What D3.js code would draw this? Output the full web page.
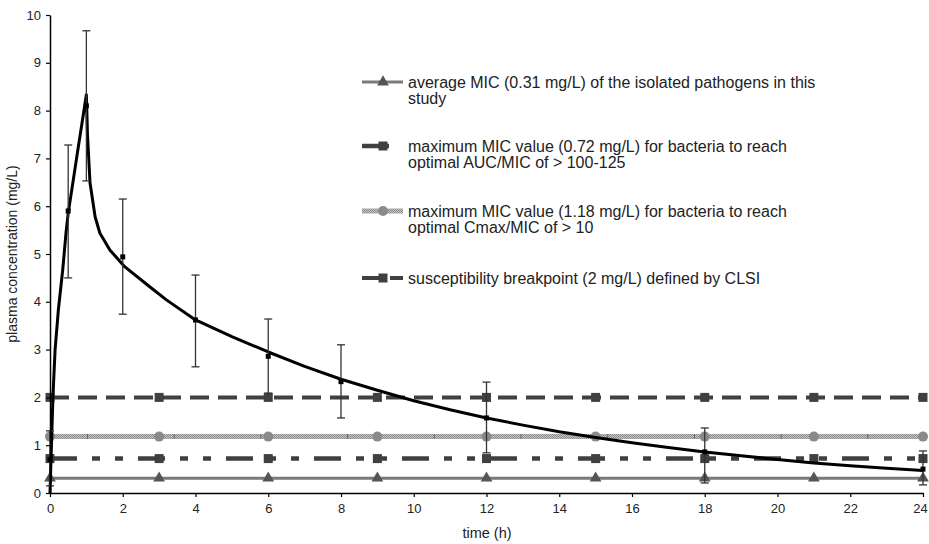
<!DOCTYPE html>
<html>
<head>
<meta charset="utf-8">
<script src="https://cdn.jsdelivr.net/npm/d3@7/dist/d3.min.js"></script>
<style>
  body { margin: 0; background: #fff; }
  svg { display: block; font-family: "Liberation Sans", Arial, sans-serif; }
</style>
</head>
<body>
<svg id="chart" width="929" height="544"></svg>
<script>
// ---- data ----
const timeTicks = [0, 2, 4, 6, 8, 10, 12, 14, 16, 18, 20, 22, 24];
const concTicks = [0, 1, 2, 3, 4, 5, 6, 7, 8, 9, 10];

// observed mean concentrations with error bars
const obsTime  = [0, 0.5, 1, 2, 4, 6, 8, 12, 18, 24];
const obsMean  = [0.7, 5.9, 8.1, 4.94, 3.62, 2.86, 2.33, 1.57, 0.86, 0.5];
const obsUpper = [1.3, 7.28, 9.67, 6.15, 4.56, 3.64, 3.1, 2.32, 1.36, 0.88];
const obsLower = [0.15, 4.5, 6.53, 3.74, 2.64, 2.09, 1.57, 0.84, 0.21, 0.17];

// fitted concentration-time curve
const curveTime = [0, 0.08, 0.14, 0.23, 0.35, 0.44, 0.5, 0.75, 1.0, 1.03, 1.1, 1.24, 1.37, 1.65, 2.06, 2.75, 3.2, 4, 5, 6, 7, 8, 9, 10, 11, 12, 13, 14, 15, 16, 17, 18, 19, 20, 21, 22, 23, 24];
const curveConc = [0, 2.0, 3.0, 3.83, 4.67, 5.44, 5.85, 7.1, 8.33, 7.5, 6.49, 5.78, 5.44, 5.08, 4.73, 4.31, 4.04, 3.62, 3.27, 2.95, 2.65, 2.38, 2.15, 1.93, 1.74, 1.57, 1.42, 1.28, 1.16, 1.05, 0.95, 0.86, 0.78, 0.70, 0.63, 0.57, 0.52, 0.47];

// threshold reference lines
const refMarkerTimes = [0, 3, 6, 9, 12, 15, 18, 21, 24];
const refNames = [
  ["average MIC (0.31 mg/L) of the isolated pathogens in this", "study"],
  ["maximum MIC value (0.72 mg/L) for bacteria to reach", "optimal AUC/MIC of > 100-125"],
  ["maximum MIC value (1.18 mg/L) for bacteria to reach", "optimal Cmax/MIC of > 10"],
  ["susceptibility breakpoint (2 mg/L) defined by CLSI"]
];
const refValues = [0.31, 0.72, 1.18, 2];

// ---- layout ----
const svg = d3.select("#chart");
const x = d3.scaleLinear().domain([0, 24]).range([50, 923]);
const y = d3.scaleLinear().domain([0, 10]).range([493, 15]);

// pattern for hatched grey line
const defs = svg.append("defs");
const pat = defs.append("pattern").attr("id", "hatch").attr("patternUnits", "userSpaceOnUse")
  .attr("width", 2).attr("height", 2);
pat.append("rect").attr("width", 2).attr("height", 2).attr("fill", "#c4c4c4");
pat.append("rect").attr("width", 1).attr("height", 1).attr("fill", "#8c8c8c");
pat.append("rect").attr("x", 1).attr("y", 1).attr("width", 1).attr("height", 1).attr("fill", "#8c8c8c");

const styles = [
  { stroke: "#7a7a7a", width: 3, dash: null, marker: "triangle", mfill: "#555" },
  { stroke: "#404040", width: 4.5, dash: "27,15,8,15,8,15", marker: "square", mfill: "#404040" },
  { stroke: "url(#hatch)", width: 5, dash: null, marker: "circle", mfill: "#8a8a8a" },
  { stroke: "#404040", width: 4, dash: "19,9", marker: "square", mfill: "#404040" }
];

function drawMarker(g, type, cx, cy, fill) {
  if (type === "triangle") {
    g.append("path").attr("d", d3.symbol(d3.symbolTriangle, 60)()).attr("transform", `translate(${cx},${cy})`).attr("fill", fill);
  } else if (type === "square") {
    g.append("rect").attr("x", cx - 4.5).attr("y", cy - 4.5).attr("width", 9).attr("height", 9).attr("fill", fill);
  } else {
    g.append("circle").attr("cx", cx).attr("cy", cy).attr("r", 5).attr("fill", fill);
  }
}

// reference lines
const refG = svg.append("g");
refValues.forEach((v, i) => {
  const s = styles[i];
  refG.append("line").attr("x1", x(0)).attr("x2", x(24)).attr("y1", y(v)).attr("y2", y(v))
    .attr("stroke", s.stroke).attr("stroke-width", s.width)
    .attr("stroke-dasharray", s.dash);
  if (i === 2) {
    refG.append("line").attr("x1", x(0)).attr("x2", x(24)).attr("y1", y(v)).attr("y2", y(v))
      .attr("stroke", "#666").attr("stroke-width", 5)
      .attr("stroke-dasharray", "1,85.7").attr("stroke-dashoffset", 49.7);
  }
  refMarkerTimes.forEach(t => drawMarker(refG, s.marker, x(t), y(v), s.mfill));
});

// fitted curve
svg.append("path")
  .attr("d", d3.line().x((d, i) => x(curveTime[i])).y(d => y(d))(curveConc))
  .attr("fill", "none").attr("stroke", "#000").attr("stroke-width", 3).attr("stroke-linejoin", "round");

// error bars & observed means
const eb = svg.append("g").attr("stroke", "#333").attr("stroke-width", 1.3);
obsTime.forEach((t, i) => {
  const cx = x(t);
  eb.append("line").attr("x1", cx).attr("x2", cx).attr("y1", y(obsUpper[i])).attr("y2", y(obsLower[i]));
  eb.append("line").attr("x1", cx - 4).attr("x2", cx + 4).attr("y1", y(obsUpper[i])).attr("y2", y(obsUpper[i]));
  eb.append("line").attr("x1", cx - 4).attr("x2", cx + 4).attr("y1", y(obsLower[i])).attr("y2", y(obsLower[i]));
});
svg.append("g").selectAll("rect").data(obsMean).join("rect")
  .attr("x", (d, i) => x(obsTime[i]) - 2.5).attr("y", d => y(d) - 2.5)
  .attr("width", 5).attr("height", 5).attr("fill", "#000");

// axes
const xAxis = svg.append("g").attr("transform", `translate(0,${y(0)})`)
  .call(d3.axisBottom(x).tickValues(timeTicks).tickSize(4).tickPadding(7).tickSizeOuter(0));
const yAxis = svg.append("g").attr("transform", `translate(${x(0)},0)`)
  .call(d3.axisLeft(y).tickValues(concTicks).tickSize(4).tickPadding(5).tickSizeOuter(0));
[xAxis, yAxis].forEach(a => {
  a.select(".domain").attr("stroke", "#000").attr("stroke-width", 1.5);
  a.selectAll(".tick line").attr("stroke", "#000").attr("stroke-width", 1.2);
  a.selectAll(".tick text").attr("font-size", 13).attr("fill", "#222").attr("font-family", "Liberation Sans, Arial, sans-serif");
});
// keep the last x tick label inside the page
xAxis.selectAll(".tick text").filter(d => d === 24).attr("dx", -3);

// axis titles
svg.append("text").attr("x", 487).attr("y", 538).attr("text-anchor", "middle")
  .attr("font-size", 14.5).attr("fill", "#222").text("time (h)");
svg.append("text").attr("transform", "translate(17,254) rotate(-90)").attr("text-anchor", "middle")
  .attr("font-size", 14).attr("fill", "#222").text("plasma concentration (mg/L)");

// legend
const legY = [82, 146, 211, 278];
const lg = svg.append("g");
refNames.forEach((lines, i) => {
  const s = styles[i];
  const ly = legY[i];
  lg.append("line").attr("x1", 362).attr("x2", 403).attr("y1", ly).attr("y2", ly)
    .attr("stroke", s.stroke).attr("stroke-width", s.width).attr("stroke-dasharray", s.dash);
  drawMarker(lg, s.marker, 383, ly, s.mfill);
  const t = lg.append("text").attr("x", 408).attr("y", ly + 6).attr("font-size", 16).attr("fill", "#222");
  lines.forEach((ln, j) => t.append("tspan").attr("x", 408).attr("dy", j === 0 ? 0 : 16).text(ln));
});
</script>
</body>
</html>
